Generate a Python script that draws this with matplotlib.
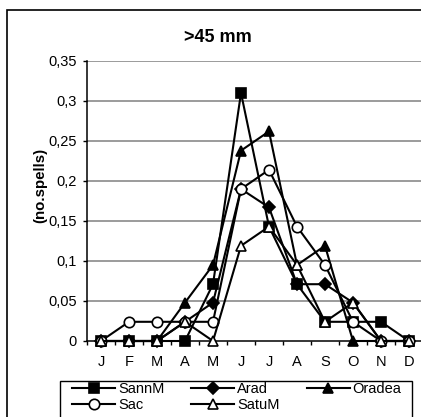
import matplotlib
matplotlib.use("Agg")
import matplotlib.pyplot as plt
from matplotlib.patches import Rectangle
from matplotlib.ticker import FixedLocator

plt.rcParams['font.family'] = ['Liberation Sans', 'DejaVu Sans']

months = ['J', 'F', 'M', 'A', 'M', 'J', 'J', 'A', 'S', 'O', 'N', 'D']
sannm = [0, 0, 0, 0, 0.071, 0.31, 0.143, 0.071, 0.024, 0.024, 0.024, 0]
arad = [0, 0, 0, 0.024, 0.048, 0.19, 0.167, 0.071, 0.071, 0.048, 0, 0]
oradea = [0, 0, 0, 0.048, 0.095, 0.238, 0.262, 0.095, 0.119, 0, 0, 0]
sac = [0, 0.024, 0.024, 0.024, 0.024, 0.19, 0.214, 0.143, 0.095, 0.024, 0, 0]
satum = [0, 0, 0, 0.024, 0, 0.119, 0.143, 0.095, 0.024, 0.048, 0, 0]
yticks = [0, 0.05, 0.1, 0.15, 0.2, 0.25, 0.3, 0.35]
ytick_labels = ['0', '0,05', '0,1', '0,15', '0,2', '0,25', '0,3', '0,35']
title = '>45 mm'
ylabel = '(no.spells)'

W, H = 421, 417
fig = plt.figure(figsize=(W / 100, H / 100), dpi=100)
fig.patches.append(Rectangle((7 / W, -0.5), 2.0, 1 - 10 / H + 0.5, transform=fig.transFigure,
                             fill=False, edgecolor='black', linewidth=1.2))
# legend frame
fig.patches.append(Rectangle((60 / W, -0.5), 352 / W, 1 - 381 / H + 0.5, transform=fig.transFigure,
                             fill=False, edgecolor='black', linewidth=1.0))

ax = fig.add_axes([87 / W, 76 / H, 336 / W, 280 / H])
x = list(range(len(months)))

for v in yticks[1:]:
    ax.axhline(v, color='#808080', linewidth=1.1, zorder=1)

series = [
    ('SannM', sannm, dict(marker='s', markersize=7, markerfacecolor='black')),
    ('Arad', arad, dict(marker='D', markersize=6, markerfacecolor='black')),
    ('Oradea', oradea, dict(marker='^', markersize=7.5, markerfacecolor='black')),
    ('Sac', sac, dict(marker='o', markersize=7.5, markerfacecolor='white')),
    ('SatuM', satum, dict(marker='^', markersize=7.5, markerfacecolor='white')),
]
handles = {}
for i, (name, vals, st) in enumerate(series):
    ln, = ax.plot(x, vals, color='black', linewidth=1.5, markeredgecolor='black',
                  markeredgewidth=1.2, clip_on=False, zorder=3 + i, label=name, **st)
    handles[name] = ln

ax.set_xlim(-0.5, len(months) - 0.5)
ax.set_ylim(0, 0.35)
ax.set_xticks(x)
ax.set_xticklabels(months, fontsize=10.5)
ax.xaxis.set_minor_locator(FixedLocator([i - 0.5 for i in range(len(months) + 1)]))
ax.tick_params(axis='x', which='major', length=0, pad=10)
ax.tick_params(axis='x', which='minor', length=3, width=1, color='black', direction='out')
ax.set_yticks(yticks)
ax.set_yticklabels(ytick_labels, fontsize=10.5)
ax.tick_params(axis='y', length=3, width=1, color='black', pad=4.3)

for s in ['top', 'right']:
    ax.spines[s].set_visible(False)
ax.spines['left'].set_color('black')
ax.spines['left'].set_linewidth(1.1)
ax.spines['bottom'].set_color('black')
ax.spines['bottom'].set_linewidth(1.1)
ax.spines['bottom'].set_zorder(2)

fig.text(218 / W, 1 - 37 / H, title, ha='center', va='center', fontsize=13, fontweight='bold')
fig.text(40 / W, 1 - 185 / H, ylabel, ha='center', va='center', rotation=90,
         fontsize=10.8, fontweight='bold')

order = ['SannM', 'Sac', 'Arad', 'SatuM', 'Oradea']
leg = fig.legend([handles[n] for n in order], order, loc='upper left',
                 bbox_to_anchor=(72 / W, 1 - 382 / H),
                 ncol=3, fontsize=10.5, frameon=False, borderaxespad=0,
                 handlelength=2.95, handletextpad=0.2, borderpad=0,
                 labelspacing=0.15, columnspacing=1.85)

fig.savefig('out.png', dpi=100)
